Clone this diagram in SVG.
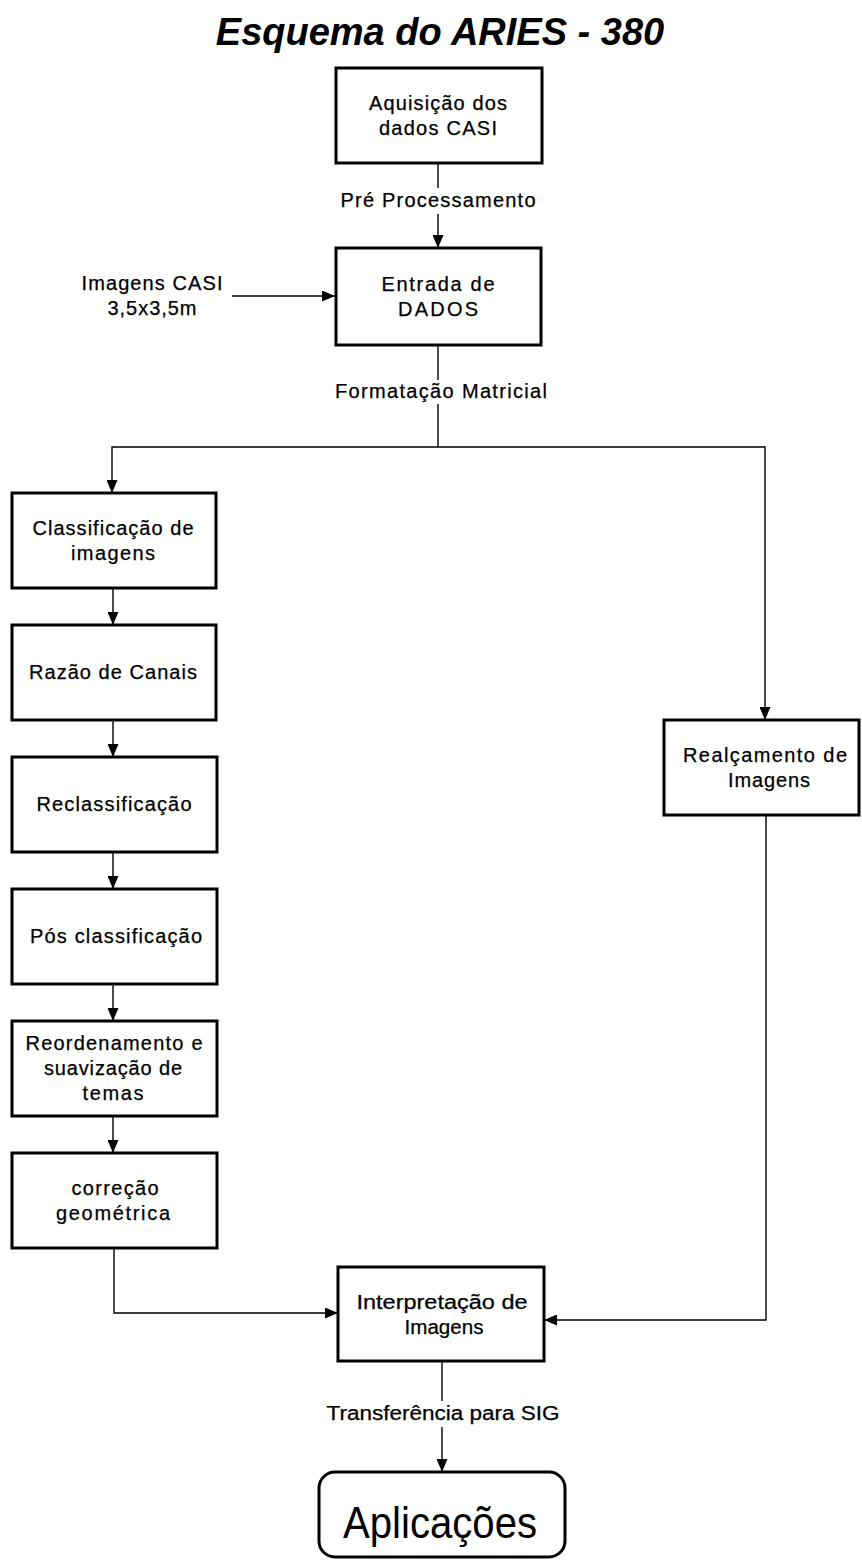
<svg xmlns="http://www.w3.org/2000/svg" width="862" height="1562" viewBox="0 0 862 1562">
<style>
.box{fill:#fff;stroke:#000;stroke-width:3}
.c{fill:none;stroke:#000;stroke-width:1.4}
.t{font-family:"Liberation Sans",Arial,sans-serif;font-size:20px;fill:#000;stroke:#000;stroke-width:0.25;text-anchor:middle}
.title{font-family:"Liberation Sans",Arial,sans-serif;font-size:38px;font-weight:bold;font-style:italic;fill:#000;text-anchor:middle}
.big{font-family:"Liberation Sans",Arial,sans-serif;font-size:45px;fill:#000;text-anchor:middle}
</style>
<defs>
<marker id="arr" viewBox="0 0 13 11" refX="13" refY="5.5" markerWidth="13" markerHeight="11" markerUnits="userSpaceOnUse" orient="auto">
<path d="M0,0 L13,5.5 L0,11 z" fill="#000"/>
</marker>
</defs>
<rect width="862" height="1562" fill="#fff"/>
<text class="title" x="440" y="45">Esquema do ARIES - 380</text>

<g id="connectors">
<path class="c" d="M438,163 V188"/>
<path class="c" d="M438,214 V248" marker-end="url(#arr)"/>
<path class="c" d="M232,296 H335" marker-end="url(#arr)"/>
<path class="c" d="M438,345 V380"/>
<path class="c" d="M438,404 V447"/>
<path class="c" d="M438,447 H112 V493" marker-end="url(#arr)"/>
<path class="c" d="M438,447 H765 V720" marker-end="url(#arr)"/>
<path class="c" d="M113,588 V625" marker-end="url(#arr)"/>
<path class="c" d="M113,720 V757" marker-end="url(#arr)"/>
<path class="c" d="M113,852 V889" marker-end="url(#arr)"/>
<path class="c" d="M113,984 V1021" marker-end="url(#arr)"/>
<path class="c" d="M113,1116 V1153" marker-end="url(#arr)"/>
<path class="c" d="M114,1248 V1313 H338" marker-end="url(#arr)"/>
<path class="c" d="M766,815 V1320 H544" marker-end="url(#arr)"/>
<path class="c" d="M442,1361 V1401"/>
<path class="c" d="M442,1427 V1472" marker-end="url(#arr)"/>
<text class="t" x="438" y="207" textLength="195" lengthAdjust="spacing">Pré Processamento</text>
<text class="t" x="441" y="398" textLength="212" lengthAdjust="spacing">Formatação Matricial</text>
<text class="t" x="443" y="1420" textLength="233" lengthAdjust="spacingAndGlyphs">Transferência para SIG</text>
</g>

<g id="imagens-casi">
<text class="t" x="152" y="290" textLength="141" lengthAdjust="spacing">Imagens CASI</text>
<text class="t" x="152" y="315" textLength="89" lengthAdjust="spacing">3,5x3,5m</text>
</g>

<g id="aquisicao">
<rect class="box" x="336" y="68" width="206" height="95"/>
<text class="t" x="438" y="110" textLength="138" lengthAdjust="spacing">Aquisição dos</text>
<text class="t" x="438" y="135" textLength="118" lengthAdjust="spacing">dados CASI</text>
</g>

<g id="entrada">
<rect class="box" x="336" y="248" width="205" height="97"/>
<text class="t" x="438" y="291" textLength="113" lengthAdjust="spacing">Entrada de</text>
<text class="t" x="438" y="316" textLength="80" lengthAdjust="spacing">DADOS</text>
</g>

<g id="classificacao">
<rect class="box" x="12" y="493" width="204" height="95"/>
<text class="t" x="113" y="535" textLength="161" lengthAdjust="spacing">Classificação de</text>
<text class="t" x="113" y="560" textLength="84" lengthAdjust="spacing">imagens</text>
</g>

<g id="razao">
<rect class="box" x="12" y="625" width="204" height="95"/>
<text class="t" x="113" y="679" textLength="168" lengthAdjust="spacing">Razão de Canais</text>
</g>

<g id="reclassificacao">
<rect class="box" x="12" y="757" width="205" height="95"/>
<text class="t" x="114" y="811" textLength="155" lengthAdjust="spacing">Reclassificação</text>
</g>

<g id="pos">
<rect class="box" x="12" y="889" width="205" height="95"/>
<text class="t" x="116" y="943" textLength="172" lengthAdjust="spacing">Pós classificação</text>
</g>

<g id="reordenamento">
<rect class="box" x="12" y="1021" width="205" height="95"/>
<text class="t" x="114" y="1050" textLength="177" lengthAdjust="spacing">Reordenamento e</text>
<text class="t" x="113" y="1075" textLength="138" lengthAdjust="spacing">suavização de</text>
<text class="t" x="113" y="1100" textLength="61" lengthAdjust="spacing">temas</text>
</g>

<g id="correcao">
<rect class="box" x="12" y="1153" width="205" height="95"/>
<text class="t" x="115" y="1195" textLength="87" lengthAdjust="spacing">correção</text>
<text class="t" x="113" y="1220" textLength="114" lengthAdjust="spacing">geométrica</text>
</g>

<g id="realcamento">
<rect class="box" x="664" y="720" width="195" height="95"/>
<text class="t" x="765" y="762" textLength="164" lengthAdjust="spacing">Realçamento de</text>
<text class="t" x="769" y="787" textLength="82" lengthAdjust="spacing">Imagens</text>
</g>

<g id="interpretacao">
<rect class="box" x="338" y="1267" width="206" height="94"/>
<text class="t" x="442" y="1309" textLength="171" lengthAdjust="spacingAndGlyphs">Interpretação de</text>
<text class="t" x="444" y="1334" textLength="79" lengthAdjust="spacingAndGlyphs">Imagens</text>
</g>

<g id="aplicacoes">
<rect class="box" x="319" y="1472" width="246" height="85" rx="16" ry="16"/>
<text class="big" x="440" y="1538" textLength="194" lengthAdjust="spacingAndGlyphs">Aplicações</text>
</g>
</svg>
